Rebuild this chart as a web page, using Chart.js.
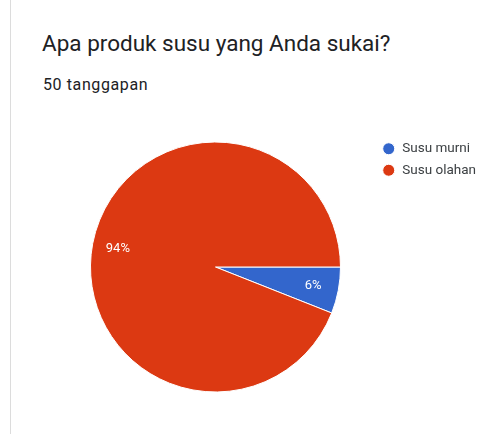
<!DOCTYPE html>
<html>
<head>
<meta charset="utf-8">
<script src="https://cdn.jsdelivr.net/npm/chart.js@4/dist/chart.umd.min.js"></script>
<style>
  html, body { margin: 0; padding: 0; background: #fff; }
  body { width: 478px; height: 434px; position: relative; overflow: hidden; font-family: Roboto, Arial, sans-serif; }
  .card-edge { position: absolute; left: 10px; top: 0; width: 1px; height: 434px; background: #dcdcdc; }
  .title { position: absolute; left: 42px; top: 30px; font-size: 22.5px; color: #202124; white-space: nowrap; }
  .subtitle { position: absolute; left: 43px; top: 75px; font-size: 16px; color: #202124; white-space: nowrap; letter-spacing: 0.6px; }
  .chart-box { position: absolute; left: 0; top: 130px; width: 478px; height: 304px; }
</style>
</head>
<body>
<div class="card-edge"></div>
<div class="title">Apa produk susu yang Anda sukai?</div>
<div class="subtitle">50 tanggapan</div>
<div class="chart-box"><canvas id="pie"></canvas></div>

<script>
// Responses per answer (50 total)
const labels = ['Susu murni', 'Susu olahan'];
const counts = [3, 47];
const colors = ['#3366cc', '#dc3912'];

// Draw the percentage text inside each slice
const sliceLabels = {
    id: 'sliceLabels',
    afterDatasetsDraw(chart) {
        const ctx = chart.ctx;
        const meta = chart.getDatasetMeta(0);
        const total = counts.reduce((a, b) => a + b, 0);
        ctx.save();
        ctx.fillStyle = '#ffffff';
        ctx.font = '13px Roboto, Arial, sans-serif';
        ctx.textAlign = 'center';
        ctx.textBaseline = 'middle';
        meta.data.forEach((arc, i) => {
            const p = arc.getProps(['x', 'y', 'startAngle', 'endAngle', 'outerRadius'], true);
            const mid = (p.startAngle + p.endAngle) / 2;
            const r = p.outerRadius * 0.795;
            const pct = Math.round(counts[i] / total * 100) + '%';
            ctx.fillText(pct, p.x + Math.cos(mid) * r, p.y + Math.sin(mid) * r);
        });
        ctx.restore();
    }
};

new Chart(document.getElementById('pie'), {
    type: 'pie',
    data: {
        labels: labels,
        datasets: [{
            data: counts,
            backgroundColor: colors,
            borderColor: '#ffffff',
            borderWidth: 1
        }]
    },
    options: {
        responsive: true,
        maintainAspectRatio: false,
        animation: false,
        rotation: 90,
        radius: 125,
        layout: { padding: { top: 4, bottom: 34, left: 57, right: -8 } },
        plugins: {
            tooltip: { enabled: false },
            legend: {
                position: 'right',
                align: 'start',
                labels: {
                    usePointStyle: true,
                    pointStyle: 'circle',
                    boxWidth: 14.5,
                    boxHeight: 8.5,
                    padding: 8,
                    color: '#3c4043',
                    font: { size: 13.5, family: 'Roboto, Arial, sans-serif' }
                }
            }
        }
    },
    plugins: [sliceLabels]
});
</script>
</body>
</html>
